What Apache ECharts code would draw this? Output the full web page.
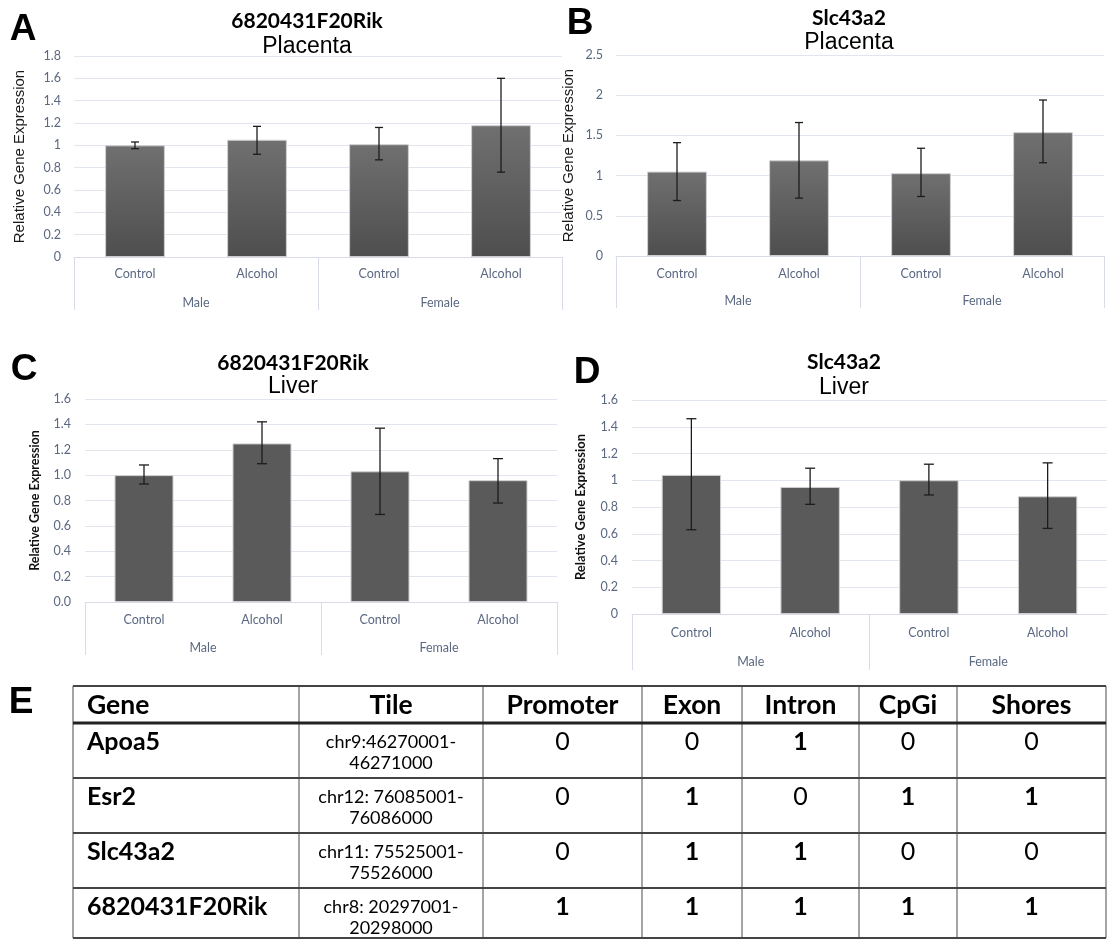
<!DOCTYPE html>
<html>
<head>
<meta charset="utf-8">
<script src="https://cdn.jsdelivr.net/npm/echarts@6/dist/echarts.min.js"></script>
<style>
  html, body { margin: 0; padding: 0; background: #ffffff; }
  #fig { width: 1107px; height: 939px; }
</style>
</head>
<body>
<div id="fig"></div>
<script>
// ---- categories ----
const conditions = ['Control', 'Alcohol', 'Control', 'Alcohol'];
const sexes = ['Male', 'Female'];

// ---- A: 6820431F20Rik in placenta (mean, lower and upper error bound) ----
const rikPlacentaMean = [1.00, 1.05, 1.01, 1.18];
const rikPlacentaLow  = [0.97, 0.92, 0.87, 0.76];
const rikPlacentaHigh = [1.03, 1.17, 1.16, 1.60];
const rikPlacentaAxis = [0, 1.8, 0.2];   // min, max, interval

// ---- B: Slc43a2 in placenta ----
const slcPlacentaMean = [1.05, 1.19, 1.03, 1.54];
const slcPlacentaLow  = [0.69, 0.72, 0.74, 1.16];
const slcPlacentaHigh = [1.41, 1.66, 1.34, 1.94];
const slcPlacentaAxis = [0, 2.5, 0.5];

// ---- C: 6820431F20Rik in liver ----
const rikLiverMean = [1.00, 1.25, 1.03, 0.96];
const rikLiverLow  = [0.93, 1.09, 0.69, 0.78];
const rikLiverHigh = [1.08, 1.42, 1.37, 1.13];
const rikLiverAxis = [0, 1.6, 0.2];

// ---- D: Slc43a2 in liver ----
const slcLiverMean = [1.04, 0.95, 1.00, 0.88];
const slcLiverLow  = [0.63, 0.82, 0.89, 0.64];
const slcLiverHigh = [1.46, 1.09, 1.12, 1.13];
const slcLiverAxis = [0, 1.6, 0.2];

// ---- E: genomic annotation of the tiles ----
const tableHeaders = ['Gene', 'Tile', 'Promoter', 'Exon', 'Intron', 'CpGi', 'Shores'];
const geneNames = ['Apoa5', 'Esr2', 'Slc43a2', '6820431F20Rik'];
const tileStart = ['chr9:46270001-', 'chr12: 76085001-', 'chr11: 75525001-', 'chr8: 20297001-'];
const tileEnd = ['46271000', '76086000', '75526000', '20298000'];
const promoterHit = [0, 0, 0, 1];
const exonHit     = [0, 1, 1, 1];
const intronHit   = [1, 0, 1, 1];
const cpgiHit     = [0, 1, 0, 1];
const shoresHit   = [0, 1, 0, 1];

const chart = echarts.init(document.getElementById('fig'), null, { renderer: 'canvas' });

const LABEL_COLOR = '#5b6882';
const GRID_COLOR = '#e1e5ee';
const AXIS_COLOR = '#d8dce6';
const UI_FONT = 'Lato, "Open Sans", sans-serif';
const ARIAL = '"Liberation Sans", Arial, sans-serif';

const gradientBar = new echarts.graphic.LinearGradient(0, 0, 0, 1, [
  { offset: 0, color: '#707070' },
  { offset: 1, color: '#4e4e4e' }
]);

// per-panel layout
const panels = [
  { mean: rikPlacentaMean, low: rikPlacentaLow, high: rikPlacentaHigh, axis: rikPlacentaAxis,
    grid: { left: 74, top: 56, width: 488, height: 201 }, barWidth: '49%', cap: 4,
    fill: gradientBar, labelMargin: 10, groupMargin: 39, groupTick: 53, yNameGap: 47,
    yNameStyle: { fontFamily: ARIAL, fontSize: 15, color: '#1a1a1a', fontWeight: 'normal' },
    yFormat: null, yLabelMargin: 13 },
  { mean: slcPlacentaMean, low: slcPlacentaLow, high: slcPlacentaHigh, axis: slcPlacentaAxis,
    grid: { left: 616, top: 55, width: 488, height: 201 }, barWidth: '49%', cap: 4,
    fill: gradientBar, labelMargin: 11, groupMargin: 38, groupTick: 52, yNameGap: 40,
    yNameStyle: { fontFamily: ARIAL, fontSize: 15, color: '#1a1a1a', fontWeight: 'normal' },
    yFormat: null, yLabelMargin: 13 },
  { mean: rikLiverMean, low: rikLiverLow, high: rikLiverHigh, axis: rikLiverAxis,
    grid: { left: 85, top: 399, width: 472, height: 203 }, barWidth: '50%', cap: 5,
    fill: '#5a5a5a', labelMargin: 11, groupMargin: 39, groupTick: 53, yNameGap: 44,
    yNameStyle: { fontFamily: UI_FONT, fontSize: 12.5, color: '#111', fontWeight: 'bold' },
    yFormat: v => v.toFixed(1), yLabelMargin: 14 },
  { mean: slcLiverMean, low: slcLiverLow, high: slcLiverHigh, axis: slcLiverAxis,
    grid: { left: 632, top: 400, width: 482, height: 214 }, barWidth: '50%', cap: 5,
    fill: '#5a5a5a', labelMargin: 12, groupMargin: 41, groupTick: 56, yNameGap: 45,
    yNameStyle: { fontFamily: UI_FONT, fontSize: 13, color: '#111', fontWeight: 'bold' },
    yFormat: null, yLabelMargin: 14 }
];

const grids = [], xAxes = [], yAxes = [], series = [];

panels.forEach((p, i) => {
  grids.push(Object.assign({ containLabel: false }, p.grid));

  // first level: treatment
  xAxes.push({
    gridIndex: i, type: 'category', data: conditions, position: 'bottom',
    axisLine: { show: true, lineStyle: { color: AXIS_COLOR, width: 1 } },
    axisTick: { show: false },
    axisLabel: { margin: p.labelMargin, color: LABEL_COLOR, fontSize: 12.5, fontFamily: UI_FONT, interval: 0 },
    splitLine: { show: false }
  });
  // second level: sex, with separators at the group boundaries
  xAxes.push({
    gridIndex: i, type: 'category', data: sexes, position: 'bottom',
    axisLine: { show: false },
    axisTick: { show: true, interval: 0, length: p.groupTick, lineStyle: { color: AXIS_COLOR, width: 1 } },
    axisLabel: { margin: p.groupMargin, color: LABEL_COLOR, fontSize: 12.5, fontFamily: UI_FONT, interval: 0 },
    splitLine: { show: false }
  });

  yAxes.push({
    gridIndex: i, type: 'value', min: p.axis[0], max: p.axis[1], interval: p.axis[2],
    name: 'Relative Gene Expression', nameLocation: 'middle', nameGap: p.yNameGap,
    nameTextStyle: p.yNameStyle,
    axisLine: { show: false }, axisTick: { show: false },
    axisLabel: Object.assign({ margin: p.yLabelMargin, color: LABEL_COLOR, fontSize: 12.5, fontFamily: UI_FONT },
      p.yFormat ? { formatter: p.yFormat } : {}),
    splitLine: { show: true, lineStyle: { color: GRID_COLOR, width: 1 } }
  });

  series.push({
    type: 'bar', xAxisIndex: 2 * i, yAxisIndex: i, data: p.mean, barWidth: p.barWidth,
    itemStyle: { color: p.fill, borderColor: '#cfcfcf', borderWidth: 1 },
    silent: true, animation: false
  });

  const cap = p.cap;
  series.push({
    type: 'custom', xAxisIndex: 2 * i, yAxisIndex: i, z: 5, silent: true, animation: false,
    data: p.mean.map((m, k) => [k, p.low[k], p.high[k]]),
    encode: { x: 0, y: [1, 2] },
    renderItem: (params, api) => {
      const x = api.value(0);
      const lo = api.coord([x, api.value(1)]);
      const hi = api.coord([x, api.value(2)]);
      const st = { stroke: '#1c1c1c', lineWidth: 1.3 };
      return {
        type: 'group', children: [
          { type: 'line', shape: { x1: lo[0], y1: lo[1], x2: hi[0], y2: hi[1] }, style: st },
          { type: 'line', shape: { x1: hi[0] - cap, y1: hi[1], x2: hi[0] + cap, y2: hi[1] }, style: st },
          { type: 'line', shape: { x1: lo[0] - cap, y1: lo[1], x2: lo[0] + cap, y2: lo[1] }, style: st }
        ]
      };
    }
  });
});

// ---- text elements: panel letters and titles ----
function txt(text, x, y, font, align, extra) {
  return Object.assign({
    type: 'text', x: x, y: y, silent: true,
    style: { text: text, font: font, fill: '#000', align: align || 'center', verticalAlign: 'middle',
             textAlign: align || 'center', textVerticalAlign: 'middle' }
  }, extra || {});
}

const graphics = [];
const LETTER_FONT = 'bold 37px "Liberation Sans", Arial, sans-serif';
graphics.push(txt('A', 23, 30, LETTER_FONT));
graphics.push(txt('B', 580, 24, LETTER_FONT));
graphics.push(txt('C', 24, 370, LETTER_FONT));
graphics.push(txt('D', 587, 373, LETTER_FONT));
graphics.push(txt('E', 21, 703, LETTER_FONT));

const GENE_FONT = 'bold 21px Lato, "Open Sans", sans-serif';
const TISSUE_FONT = '23px "Liberation Sans", Arial, sans-serif';
graphics.push(txt('6820431F20Rik', 307, 21, GENE_FONT));
graphics.push(txt('Placenta', 307, 47, TISSUE_FONT));
graphics.push(txt('Slc43a2', 849, 18, GENE_FONT));
graphics.push(txt('Placenta', 849, 43, TISSUE_FONT));
graphics.push(txt('6820431F20Rik', 293, 363, GENE_FONT));
graphics.push(txt('Liver', 293, 387, TISSUE_FONT));
graphics.push(txt('Slc43a2', 844, 362, GENE_FONT));
graphics.push(txt('Liver', 844, 388, TISSUE_FONT));

// ---- table E ----
const colEdges = [73, 299, 483, 642, 742, 859, 957, 1106];
const rowEdges = [686, 723, 778, 833, 888, 938];
const hitColumns = [promoterHit, exonHit, intronHit, cpgiHit, shoresHit];

function hline(y, w, c) {
  return { type: 'line', silent: true, shape: { x1: colEdges[0], y1: y, x2: colEdges[colEdges.length - 1], y2: y },
           style: { stroke: c, lineWidth: w } };
}
function vline(x) {
  return { type: 'line', silent: true, shape: { x1: x, y1: rowEdges[0], x2: x, y2: rowEdges[rowEdges.length - 1] },
           style: { stroke: '#4a4a4a', lineWidth: 1 } };
}
colEdges.forEach(x => graphics.push(vline(x)));
rowEdges.forEach((y, k) => graphics.push(hline(y, k === 1 ? 3 : 2, k === 1 ? '#222' : '#444')));

const HEAD_FONT = 'bold 26.5px Lato, "Open Sans", sans-serif';
const BOLD_CELL = 'bold 25px Lato, "Open Sans", sans-serif';
const PLAIN_CELL = '25px Lato, "Open Sans", sans-serif';
const TILE_FONT = '18px Lato, "Open Sans", sans-serif';
const headY = (rowEdges[0] + rowEdges[1]) / 2 + 1;
tableHeaders.forEach((h, c) => {
  if (c === 0) graphics.push(txt(h, 87, headY, HEAD_FONT, 'left'));
  else graphics.push(txt(h, (colEdges[c] + colEdges[c + 1]) / 2, headY, HEAD_FONT));
});
geneNames.forEach((g, r) => {
  const top = rowEdges[r + 1];
  graphics.push(txt(g, 87, top + 19, BOLD_CELL, 'left'));
  const tileX = (colEdges[1] + colEdges[2]) / 2;
  graphics.push(txt(tileStart[r], tileX, top + 19, TILE_FONT));
  graphics.push(txt(tileEnd[r], tileX, top + 40, TILE_FONT));
  hitColumns.forEach((col, c) => {
    const v = col[r];
    graphics.push(txt(String(v), (colEdges[c + 2] + colEdges[c + 3]) / 2, top + 19, v === 1 ? BOLD_CELL : PLAIN_CELL));
  });
});

chart.setOption({
  backgroundColor: '#ffffff',
  animation: false,
  grid: grids,
  xAxis: xAxes,
  yAxis: yAxes,
  series: series,
  graphic: graphics
});
</script>
</body>
</html>
